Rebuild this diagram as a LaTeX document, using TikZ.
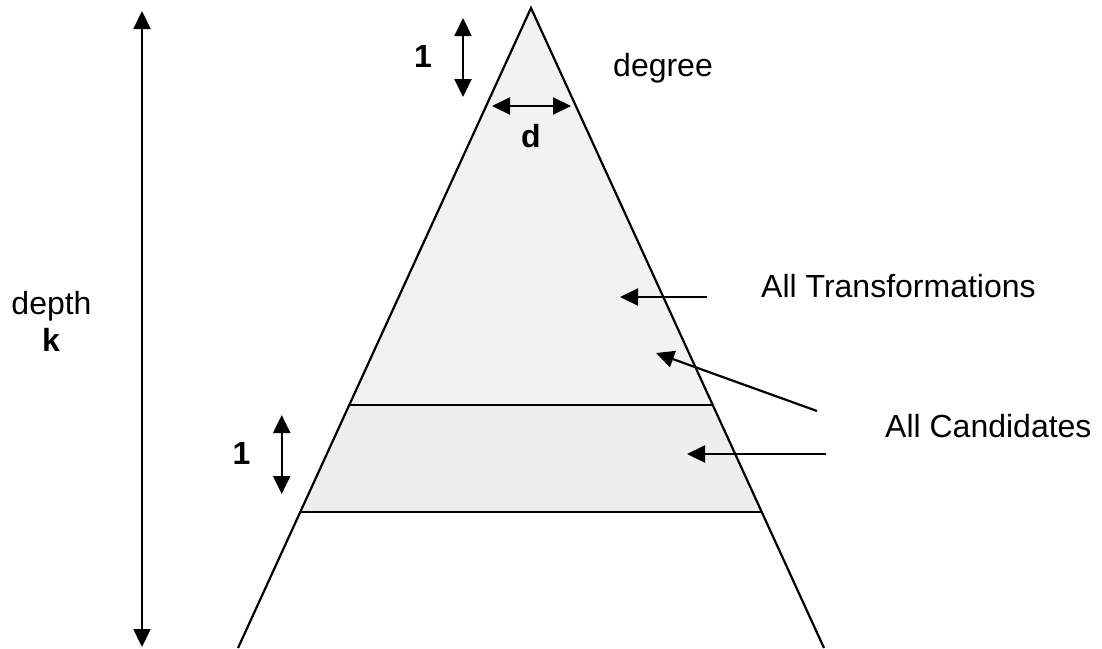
\documentclass[tikz,border=0pt]{standalone}
\usepackage{fontspec}
\setmainfont{Liberation Sans}
\usetikzlibrary{arrows.meta,calc}
\definecolor{upperfill}{HTML}{F2F2F2}
\definecolor{bandfill}{HTML}{EEEEEE}
\tikzset{
  edge/.style={line width=2.2pt, black},
  dimarrow/.style={line width=2.2pt, {Triangle[length=18pt,width=17pt]}-{Triangle[length=18pt,width=17pt]}},
  pointer/.style={line width=2.2pt, -{Triangle[length=18pt,width=17pt]}},
  lbl/.style={inner sep=0pt, font=\fontsize{32}{38}\selectfont},
  blbl/.style={inner sep=0pt, font=\fontsize{32}{38}\selectfont\bfseries},
}
\begin{document}
\begin{tikzpicture}[x=1pt,y=-1pt]
\useasboundingbox (0,0) rectangle (1102,648);
% triangle
\coordinate (apex) at (531,8);
\coordinate (bl) at (238,648);
\coordinate (br) at (824,648);
\coordinate (ul) at ($(apex)!0.6203!(bl)$);
\coordinate (ur) at ($(apex)!0.6203!(br)$);
\coordinate (ll) at ($(apex)!0.7875!(bl)$);
\coordinate (lr) at ($(apex)!0.7875!(br)$);
\fill[upperfill] (apex) -- (ul) -- (ur) -- cycle;
\fill[bandfill] (ul) -- (ll) -- (lr) -- (ur) -- cycle;
\draw[edge] (ul) -- (ur);
\draw[edge] (ll) -- (lr);
\draw[edge] (bl) -- (apex) -- (br);
% labels
\node[lbl, anchor=base] (depth) at (51.5,314) {depth};
\node[blbl, anchor=base] (k) at (51,351) {k};
\node[blbl, anchor=base] (oneTop) at (423,67) {1};
\node[blbl, anchor=base] (dlab) at (531,147) {d};
\node[lbl, anchor=base west] (degree) at (613,76) {degree};
\node[lbl, anchor=base west] (alltr) at (761,297) {All Transformations};
\node[lbl, anchor=base west] (allc) at (885,437) {All Candidates};
\node[blbl, anchor=base] (oneBot) at (241.5,464) {1};
% dimension arrows
\coordinate (kT) at (142,11);
\coordinate (kB) at (142,647);
\draw[dimarrow] (kT) -- (kB);
\coordinate (t1a) at (463,18);
\coordinate (t1b) at (463,97);
\draw[dimarrow] (t1a) -- (t1b);
\coordinate (da) at (492,106);
\coordinate (db) at (571,106);
\draw[dimarrow] (da) -- (db);
\coordinate (b1a) at (281.7,415);
\coordinate (b1b) at (281.7,494);
\draw[dimarrow] (b1a) -- (b1b);
% pointers
\coordinate (p1s) at (707,297);
\coordinate (p1e) at (620,297);
\draw[pointer] (p1s) -- (p1e);
\coordinate (p2s) at (817,411);
\coordinate (p2e) at (656,353);
\draw[pointer] (p2s) -- (p2e);
\coordinate (p3s) at (826,454);
\coordinate (p3e) at (687,454);
\draw[pointer] (p3s) -- (p3e);
\end{tikzpicture}
\end{document}
